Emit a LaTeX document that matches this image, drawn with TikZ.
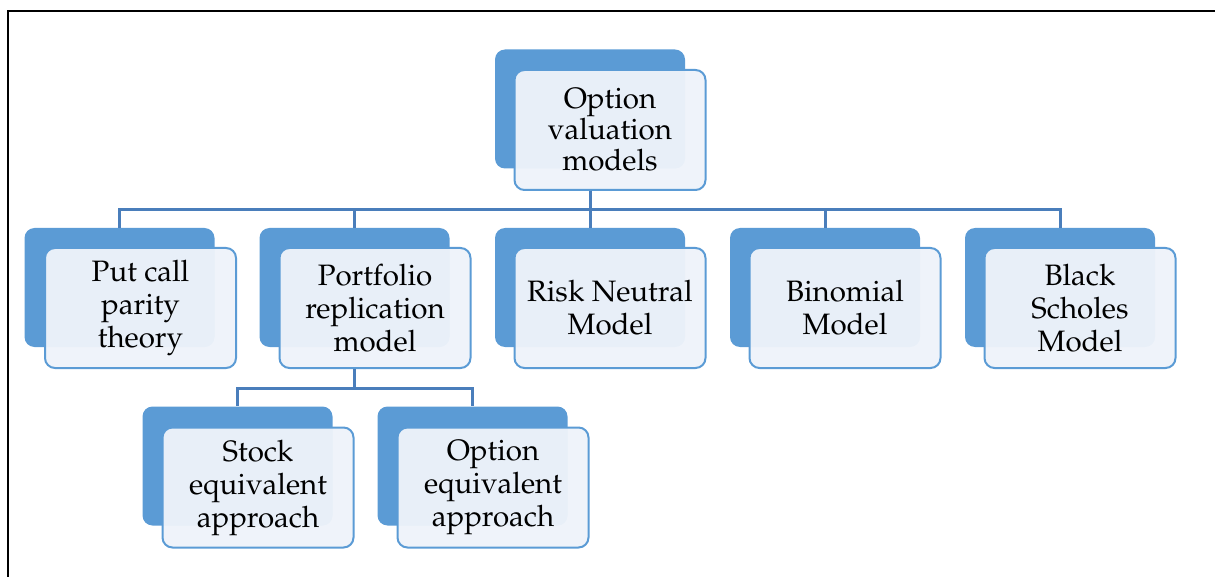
\documentclass[tikz,border=0pt]{standalone}
\usepackage[T1]{fontenc}
\usepackage{mathpazo}
\definecolor{accent}{HTML}{5B9BD5}
\definecolor{wire}{HTML}{4A7EBB}
\definecolor{pale}{HTML}{EEF3FA}
\tikzset{
  backbox/.style={fill=accent, draw=none, rounded corners=10pt,
    minimum width=190pt, minimum height=119pt, inner sep=0pt},
  frontbox/.style={fill=pale, fill opacity=0.96, text opacity=1,
    draw=accent, line width=2pt, rounded corners=10pt,
    minimum width=191pt, minimum height=120pt, inner sep=0pt,
    align=center, text=black, font=\fontsize{29.5}{33}\selectfont},
  conn/.style={draw=wire, line width=3pt},
  frame/.style={draw=black, line width=2.8pt},
}
\begin{document}
\begin{tikzpicture}[x=1pt,y=-1pt]
\useasboundingbox (0,0) rectangle (1215,577);
\draw[frame] (8,578) -- (8,11) -- (1216,11);

% root
\node[backbox]  (rootB) at (590,109) {};
\node[frontbox, font=\fontsize{29.5}{31}\selectfont] (root) at (610,130) {Option\\valuation\\models};

% first level
\node[backbox]  (putB)  at (119.5,287.5) {};
\node[frontbox] (put)   at (140.5,308) {Put call\\parity\\theory};
\node[backbox]  (portB) at (354.5,287.5) {};
\node[frontbox] (port)  at (375,308) {Portfolio\\replication\\model};
\node[backbox]  (riskB) at (590,287.5) {};
\node[frontbox] (risk)  at (610,308) {Risk Neutral\\Model};
\node[backbox]  (binB)  at (825,287.5) {};
\node[frontbox] (bin)   at (845,308) {Binomial\\Model};
\node[backbox]  (bsB)   at (1060,287.5) {};
\node[frontbox] (bs)    at (1080,308) {Black\\Scholes\\Model};

% second level
\node[backbox]  (stockB) at (237.5,466) {};
\node[frontbox] (stock)  at (258,487.5) {Stock\\equivalent\\approach};
\node[backbox]  (optB)   at (472.5,466) {};
\node[frontbox] (opt)    at (493,487.5) {Option\\equivalent\\approach};

% connectors from the root
\foreach \c in {putB,portB,riskB,binB,bsB}
  \draw[conn] (rootB |- root.south) -- ++(0,19) -| (\c.north);

% connectors from the portfolio model
\foreach \c in {stockB,optB}
  \draw[conn] (portB |- port.south) -- ++(0,19) -| (\c.north);
\end{tikzpicture}
\end{document}
